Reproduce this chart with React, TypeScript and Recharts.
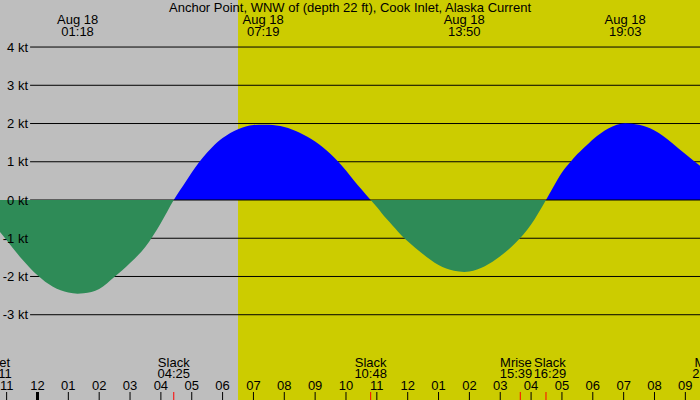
import {
  Area,
  ComposedChart,
  ReferenceArea,
  ReferenceLine,
  XAxis,
  YAxis,
} from "recharts";

// hours after midnight Aug 18 (negative = Aug 17), current speed in knots
const hours = [
  -1.22, -1, -0.5, 0, 0.5, 1, 1.3, 1.5, 2, 2.5, 3, 3.5, 4, 4.417,
  4.82, 5, 5.25, 5.5, 5.81, 6, 6.5, 7, 7.317, 7.5, 8, 8.5, 9, 9.5, 10, 10.27, 10.5, 10.8,
  11, 11.32, 11.5, 11.89, 12, 12.5, 13, 13.5, 13.833, 14, 14.5, 15, 15.5, 16, 16.483,
  16.83, 17, 17.28, 17.5, 17.89, 18, 18.5, 19.05, 19.5, 20, 20.56, 21, 21.5,
];
const speeds = [
  -0.83, -1.05, -1.55, -1.97, -2.27, -2.42, -2.45, -2.44, -2.33, -2.01, -1.65, -1.22, -0.6, 0,
  0.5, 0.72, 1.0, 1.24, 1.5, 1.62, 1.85, 1.96, 1.97, 1.97, 1.91, 1.76, 1.53, 1.2, 0.77, 0.5, 0.28, 0,
  -0.18, -0.5, -0.66, -1.0, -1.08, -1.42, -1.7, -1.85, -1.88, -1.87, -1.73, -1.47, -1.12, -0.64, 0,
  0.5, 0.72, 1.0, 1.2, 1.5, 1.58, 1.87, 2.01, 1.97, 1.82, 1.5, 1.2, 0.88,
];

const yTicks = [4, 3, 2, 1, 0, -1, -2, -3];
const hourTicks = [-1, 0, 1, 2, 3, 4, 5, 6, 7, 8, 9, 10, 11, 12, 13, 14, 15, 16, 17, 18, 19, 20, 21];

const extremaHours = [1.3, 7.317, 13.833, 19.05];
const extremaTimes = ["01:18", "07:19", "13:50", "19:03"];

// event ticks, and where their labels sit (labels are nudged apart so they don't collide)
const eventHours = [4.417, 10.8, 15.65, 16.483];
const labelHours = [-1.345, 4.417, 10.8, 15.51, 16.61, 21.75];
const labelNames = ["Mset", "Slack", "Slack", "Mrise", "Slack", "Mset"];
const labelTimes = ["21:11", "04:25", "10:48", "15:39", "16:29", "21:44"];

const SUNRISE = 6.5;
const X_MIN = -1.215;
const X_MAX = 21.475;
const GRID_START = -0.24;

const FONT = "'Liberation Sans', Arial, sans-serif";

const data = hours.map((h, i) => ({ h, speed: speeds[i] }));
const maxSpeed = Math.max(...speeds);
const minSpeed = Math.min(...speeds);
const zeroOffset = maxSpeed / (maxSpeed - minSpeed);

function HourTick(props: any) {
  const { x, payload } = props;
  const h = payload.value;
  const label = String(((h % 12) + 12) % 12 || 12).padStart(2, "0");
  return (
    <g>
      <text x={x} y={390} textAnchor="middle" fontFamily={FONT} fontSize={13} fill="#000">
        {label}
      </text>
      <line x1={x} x2={x} y1={392} y2={400} stroke="#000" strokeWidth={h === 0 ? 3 : 1} />
    </g>
  );
}

function SpeedTick(props: any) {
  const { y, payload } = props;
  return (
    <text x={28} y={y + 4.5} textAnchor="end" fontFamily={FONT} fontSize={13} fill="#000">
      {payload.value} kt
    </text>
  );
}

export default function App() {
  return (
    <div style={{ width: 700, height: 400, overflow: "hidden" }}>
      <style>{"body{margin:0}"}</style>
      <ComposedChart
        width={700}
        height={400}
        data={data}
        margin={{ top: 0, right: 0, bottom: 0, left: 0 }}
      >
        <defs>
          <linearGradient id="floodFill" x1="0" y1="0" x2="0" y2="1">
            <stop offset={zeroOffset} stopColor="#0000ff" stopOpacity={1} />
            <stop offset={zeroOffset} stopColor="#0000ff" stopOpacity={0} />
          </linearGradient>
          <linearGradient id="ebbFill" x1="0" y1="0" x2="0" y2="1">
            <stop offset={zeroOffset} stopColor="#2e8b57" stopOpacity={0} />
            <stop offset={zeroOffset} stopColor="#2e8b57" stopOpacity={1} />
          </linearGradient>
        </defs>
        <ReferenceArea x1={X_MIN} x2={SUNRISE} fill="#bebebe" fillOpacity={1} stroke="none" zIndex={-300} />
        <ReferenceArea x1={SUNRISE} x2={X_MAX} fill="#cccc00" fillOpacity={1} stroke="none" zIndex={-300} />
        {yTicks
          .filter((v) => v !== 0)
          .map((v) => (
            <ReferenceLine
              key={v}
              segment={[
                { x: GRID_START, y: v },
                { x: X_MAX, y: v },
              ]}
              stroke="#000"
              strokeWidth={1}
              zIndex={-200}
            />
          ))}
        <Area
          dataKey="speed"
          type="monotone"
          baseValue={0}
          fill="url(#floodFill)"
          fillOpacity={1}
          stroke="none"
          dot={false}
          activeDot={false}
          isAnimationActive={false}
          zIndex={100}
        />
        <ReferenceLine
          segment={[
            { x: GRID_START, y: 0 },
            { x: X_MAX, y: 0 },
          ]}
          stroke="#000"
          strokeWidth={1}
          zIndex={150}
        />
        <Area
          dataKey="speed"
          type="monotone"
          baseValue={0}
          fill="url(#ebbFill)"
          fillOpacity={1}
          stroke="none"
          dot={false}
          activeDot={false}
          isAnimationActive={false}
          zIndex={200}
        />
        {extremaHours.map((h, i) => (
          <ReferenceLine
            key={"ex" + i}
            x={h}
            stroke="none"
            ifOverflow="visible"
            zIndex={600}
            label={(p: any) => (
              <g>
                <text x={p.viewBox.x} y={24} textAnchor="middle" fontFamily={FONT} fontSize={13} fill="#000">
                  Aug 18
                </text>
                <text x={p.viewBox.x} y={36} textAnchor="middle" fontFamily={FONT} fontSize={13} fill="#000">
                  {extremaTimes[i]}
                </text>
              </g>
            )}
          />
        ))}
        {eventHours.map((h, i) => (
          <ReferenceLine
            key={"tk" + i}
            x={h}
            stroke="none"
            ifOverflow="visible"
            zIndex={600}
            label={(p: any) => (
              <line x1={p.viewBox.x} x2={p.viewBox.x} y1={392} y2={400} stroke="#ff0000" strokeWidth={1} />
            )}
          />
        ))}
        {labelHours.map((h, i) => (
          <ReferenceLine
            key={"ev" + i}
            x={h}
            stroke="none"
            ifOverflow="visible"
            zIndex={600}
            label={(p: any) => (
              <g>
                <text x={p.viewBox.x} y={366.5} textAnchor="middle" fontFamily={FONT} fontSize={13} fill="#000">
                  {labelNames[i]}
                </text>
                <text x={p.viewBox.x} y={378} textAnchor="middle" fontFamily={FONT} fontSize={13} fill="#000">
                  {labelTimes[i]}
                </text>
              </g>
            )}
          />
        ))}
        <XAxis
          dataKey="h"
          type="number"
          domain={[X_MIN, X_MAX]}
          allowDataOverflow
          ticks={hourTicks}
          interval={0}
          mirror
          axisLine={false}
          tickLine={false}
          tick={<HourTick />}
        />
        <YAxis
          type="number"
          domain={[-5.23, 5.23]}
          allowDataOverflow
          ticks={yTicks}
          interval={0}
          mirror
          axisLine={false}
          tickLine={false}
          tick={<SpeedTick />}
        />
        <text x={350} y={12} textAnchor="middle" fontFamily={FONT} fontSize={13} fill="#000">
          Anchor Point, WNW of (depth 22 ft), Cook Inlet, Alaska Current
        </text>
      </ComposedChart>
    </div>
  );
}
